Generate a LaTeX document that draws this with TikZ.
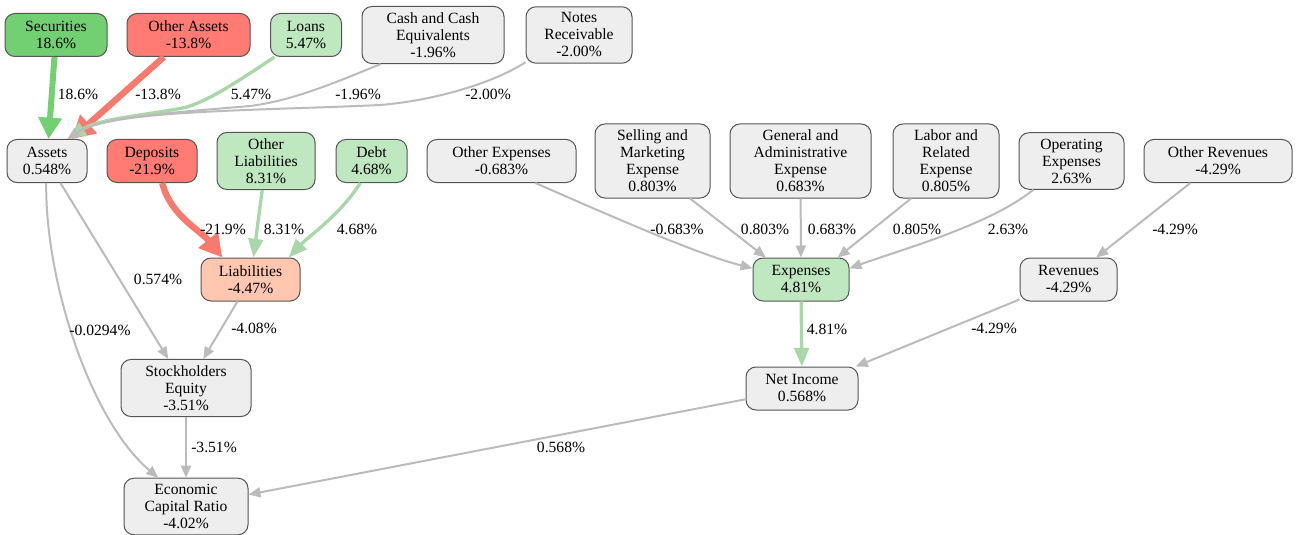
\documentclass[tikz,border=0pt]{standalone}
\usepackage{fontspec}
\setmainfont{Liberation Serif}
\usepackage{xcolor}
\usepackage{tikz}
\usetikzlibrary{arrows.meta}
\definecolor{K_FLAT}  {HTML}{EEEEEE}
\definecolor{K_UP}    {HTML}{72CF72}
\definecolor{K_UPS}   {HTML}{BFE8C0}
\definecolor{K_DN}    {HTML}{FF7B73}
\definecolor{K_DNS}   {HTML}{FFC7B0}
\definecolor{K_LINE}  {HTML}{BBBBBB}
\definecolor{K_EUPS}  {HTML}{A9D7A9}
\definecolor{K_EDN}   {HTML}{F87A6E}
\definecolor{K_BORDER}{HTML}{555555}
\newcommand{\kpifont}{\fontsize{11.7}{12.75}\selectfont}
\tikzset{
  %% -- metric boxes --
  kpi/base/.style={
    draw=K_BORDER, line width=0.75pt, rounded corners=7.5pt,
    fill=K_FLAT, minimum height=32.25pt, inner xsep=2pt, inner ysep=4.5pt,
    align=center, font=\kpifont
  },
  kpi/up/.style={kpi/base, fill=K_UP},
  kpi/upsoft/.style={kpi/base, fill=K_UPS},
  kpi/down/.style={kpi/base, fill=K_DN},
  kpi/downsoft/.style={kpi/base, fill=K_DNS},
  %% -- contribution edges --
  kpi/arr/.style={-{Triangle[length=9pt,width=7.5pt]}, line width=1.5pt, draw=K_LINE},
  kpi/soft/.style={-{Triangle[length=14pt,width=11pt]}, line width=2.5pt, draw=K_EUPS},
  kpi/gain/.style={-{Triangle[length=16pt,width=17pt]}, line width=4.5pt, draw=K_UP},
  kpi/loss/.style={-{Triangle[length=17pt,width=18pt]}, line width=4.8pt, draw=K_EDN},
  %% -- edge label --
  kpi/lbl/.style={font=\kpifont, inner sep=1pt, text=black},
}
\begin{document}
\begin{tikzpicture}[x=0.75pt, y=-0.75pt]
\useasboundingbox (0,0) rectangle (1297,535);

%% Top row: asset drivers
\node[kpi/up,     minimum width=76.5pt]  (sec)       at (56,35)    {Securities\\18.6\%};
\node[kpi/down,   minimum width=92.25pt] (othassets) at (188.5,35) {Other Assets\\-13.8\%};
\node[kpi/upsoft, minimum width=53.25pt] (loans)     at (306,35)   {Loans\\5.47\%};
\node[kpi/base,   minimum width=106.5pt] (cash)      at (433,35)   {Cash and Cash\\Equivalents\\-1.96\%};
\node[kpi/base,   minimum width=79.5pt]  (notes)     at (579,35)   {Notes\\Receivable\\-2.00\%};

%% Second row: balance sheet
\node[kpi/base,   minimum width=60pt]    (assets)    at (47,161)    {Assets\\0.548\%};
\node[kpi/down,   minimum width=67.5pt]  (deposits)  at (152,161)   {Deposits\\-21.9\%};
\node[kpi/upsoft, minimum width=73.5pt]  (othliab)   at (266,161)   {Other\\Liabilities\\8.31\%};
\node[kpi/upsoft, minimum width=53.25pt] (debt)      at (371.5,161) {Debt\\4.68\%};

%% Second row: income statement
\node[kpi/base, minimum width=111.75pt] (othexp)  at (501.5,161)  {Other Expenses\\-0.683\%};
\node[kpi/base, minimum width=86.25pt]  (selling) at (652.5,161)  {Selling and\\Marketing\\Expense\\0.803\%};
\node[kpi/base, minimum width=105.75pt] (gna)     at (800.5,161)  {General and\\Administrative\\Expense\\0.683\%};
\node[kpi/base, minimum width=79.5pt]   (labor)   at (946,161)    {Labor and\\Related\\Expense\\0.805\%};
\node[kpi/base, minimum width=78.75pt]  (opex)    at (1071.5,161) {Operating\\Expenses\\2.63\%};
\node[kpi/base, minimum width=111pt]    (othrev)  at (1218,161)   {Other Revenues\\-4.29\%};

%% Aggregates
\node[kpi/downsoft, minimum width=74.25pt] (liab)     at (250.5,279.5)  {Liabilities\\-4.47\%};
\node[kpi/upsoft,   minimum width=72pt]    (expenses) at (801,279.5)    {Expenses\\4.81\%};
\node[kpi/base,     minimum width=72.75pt] (revenues) at (1068.5,279.5) {Revenues\\-4.29\%};
\node[kpi/base,     minimum width=97.5pt]  (equity)   at (186,388)      {Stockholders\\Equity\\-3.51\%};
\node[kpi/base,     minimum width=84pt]    (netinc)   at (802,388.5)    {Net Income\\0.568\%};
\node[kpi/base,     minimum width=93pt]    (ecr)      at (186,506.5)    {Economic\\Capital Ratio\\-4.02\%};

%% Drivers -> Assets
\draw[kpi/gain] (sec) -- (assets) node[kpi/lbl, at={(78,94)}] {18.6\%};
\draw[kpi/loss] (othassets) -- (assets) node[kpi/lbl, at={(158,94)}] {-13.8\%};
\draw[kpi/soft] (loans.215) .. controls (240,80) and (210,100) .. (187,107)
  .. controls (150,115) and (100,118) .. (assets.47)
  node[kpi/lbl, at={(251,94)}] {5.47\%};
\draw[kpi/arr] (cash.209) .. controls (330,85) and (290,101) .. (250,106)
  .. controls (180,112) and (100,117) .. (assets.47)
  node[kpi/lbl, at={(358,94)}] {-1.96\%};
\draw[kpi/arr] (notes.207) .. controls (490,85) and (430,101) .. (380,105)
  .. controls (250,111) and (110,110) .. (assets.47)
  node[kpi/lbl, at={(488,94)}] {-2.00\%};

%% Drivers -> Liabilities
\draw[kpi/loss] (deposits.295) .. controls (170,215) and (200,230) .. (liab.142)
  node[kpi/lbl, at={(223,229)}] {-21.9\%};
\draw[kpi/soft] (othliab) -- (liab) node[kpi/lbl, at={(284,229)}] {8.31\%};
\draw[kpi/soft] (debt.243) .. controls (340,215) and (310,235) .. (liab.30)
  node[kpi/lbl, at={(357,229)}] {4.68\%};

%% Balance sheet -> ratio
\draw[kpi/arr] (assets) -- (equity) node[kpi/lbl, at={(158,279)}] {0.574\%};
\draw[kpi/arr] (assets.268) .. controls (45,280) and (90,420) .. (ecr.134)
  node[kpi/lbl, at={(100,330)}] {-0.0294\%};
\draw[kpi/arr] (liab) -- (equity) node[kpi/lbl, at={(254,328)}] {-4.08\%};
\draw[kpi/arr] (equity) -- (ecr) node[kpi/lbl, at={(214,447)}] {-3.51\%};

%% Expenses
\draw[kpi/arr] (othexp.327) .. controls (615,218) and (700,255) .. (expenses.167)
  node[kpi/lbl, at={(677,229)}] {-0.683\%};
\draw[kpi/arr] (selling.315) -- (expenses.148) node[kpi/lbl, at={(765,229)}] {0.803\%};
\draw[kpi/arr] (gna) -- (expenses) node[kpi/lbl, at={(832,229)}] {0.683\%};
\draw[kpi/arr] (labor.227) -- (expenses.31) node[kpi/lbl, at={(917,229)}] {0.805\%};
\draw[kpi/arr] (opex.217) .. controls (990,225) and (900,250) .. (expenses.13)
  node[kpi/lbl, at={(1008,229)}] {2.63\%};

%% Revenues and net income
\draw[kpi/arr] (othrev) -- (revenues) node[kpi/lbl, at={(1175,229)}] {-4.29\%};
\draw[kpi/arr] (revenues) -- (netinc) node[kpi/lbl, at={(994,328)}] {-4.29\%};
\draw[kpi/soft] (expenses) -- (netinc) node[kpi/lbl, at={(827,329)}] {4.81\%};
\draw[kpi/arr] (netinc) -- (ecr) node[kpi/lbl, at={(561,447)}] {0.568\%};
\end{tikzpicture}
\end{document}
